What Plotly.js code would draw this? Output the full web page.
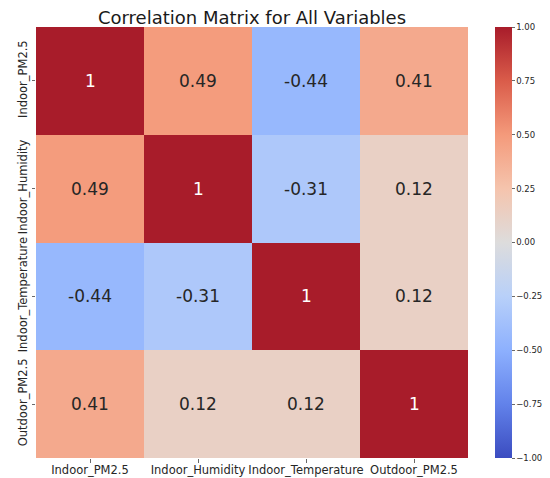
<!DOCTYPE html>
<html><head><meta charset="utf-8">
<script src="https://cdn.plot.ly/plotly-3.0.1.min.js"></script>
<style>html,body{margin:0;padding:0;background:#fff}#chart{width:550px;height:478px}</style>
</head><body><div id="chart"></div>
<script>
const variables = ["Indoor_PM2.5", "Indoor_Humidity", "Indoor_Temperature", "Outdoor_PM2.5"];
const row_Indoor_PM25 = [1, 0.49, -0.44, 0.41];
const row_Indoor_Humidity = [0.49, 1, -0.31, 0.12];
const row_Indoor_Temperature = [-0.44, -0.31, 1, 0.12];
const row_Outdoor_PM25 = [0.41, 0.12, 0.12, 1];
const colorbarTicks = [-1, -0.75, -0.5, -0.25, 0, 0.25, 0.5, 0.75, 1];

const z = [row_Indoor_PM25, row_Indoor_Humidity, row_Indoor_Temperature, row_Outdoor_PM25];

const coolwarm = [
  [0.0, 'rgb(59,76,192)'],
  [0.125, 'rgb(98,130,234)'],
  [0.25, 'rgb(141,176,254)'],
  [0.375, 'rgb(184,208,249)'],
  [0.5, 'rgb(221,220,220)'],
  [0.625, 'rgb(245,196,173)'],
  [0.75, 'rgb(244,154,123)'],
  [0.875, 'rgb(218,92,74)'],
  [1.0, 'rgb(168,28,42)']
];

const annotations = [];
z.forEach((row, i) => row.forEach((v, j) => {
  annotations.push({
    x: variables[j], y: variables[i], xref: 'x', yref: 'y',
    text: String(v), showarrow: false,
    font: {family: 'DejaVu Sans', size: 17, color: v > 0.75 ? '#ffffff' : '#262626'}
  });
}));

const trace = {
  type: 'heatmap', x: variables, y: variables, z: z,
  colorscale: coolwarm, zmin: -1, zmax: 1, xgap: 0, ygap: 0,
  hoverinfo: 'skip',
  colorbar: {
    x: 1.0625, xanchor: 'left', y: 0, yanchor: 'bottom', yref: 'paper', len: 1, lenmode: 'fraction',
    thickness: 17, outlinewidth: 0, xpad: 0, ypad: 0,
    tickvals: colorbarTicks, tickformat: '.2f', ticks: 'outside', ticklen: 3, tickwidth: 0.8, tickcolor: '#444',
    tickfont: {family: 'DejaVu Sans', size: 8.5, color: '#262626'}
  }
};

const layout = {
  width: 550, height: 478,
  margin: {l: 36, r: 82, t: 27, b: 20, autoexpand: false},
  paper_bgcolor: '#fff', plot_bgcolor: '#fff',
  title: {text: 'Correlation Matrix for All Variables', x: 0.5, xref: 'paper', xanchor: 'center', y: 1, yref: 'paper', yanchor: 'bottom', pad: {b: 3},
          font: {family: 'DejaVu Sans', size: 18, color: '#1a1a1a'}},
  xaxis: {type: 'category', showgrid: false, zeroline: false, showline: false, ticks: 'outside', ticklen: 3.5, tickwidth: 0.8, tickcolor: '#444',
          ticklabelstandoff: -2, tickangle: 0, tickfont: {family: 'DejaVu Sans', size: 11.5, color: '#262626'}, automargin: false, fixedrange: true},
  yaxis: {type: 'category', autorange: 'reversed', showgrid: false, zeroline: false, showline: false, ticks: 'outside', ticklen: 3.5, tickwidth: 0.8, tickcolor: '#444',
          tickangle: -90, tickfont: {family: 'DejaVu Sans', size: 11.5, color: '#262626'}, automargin: false, fixedrange: true},
  annotations: annotations
};

Plotly.newPlot('chart', [trace], layout, {staticPlot: true, displayModeBar: false});
</script></body></html>
